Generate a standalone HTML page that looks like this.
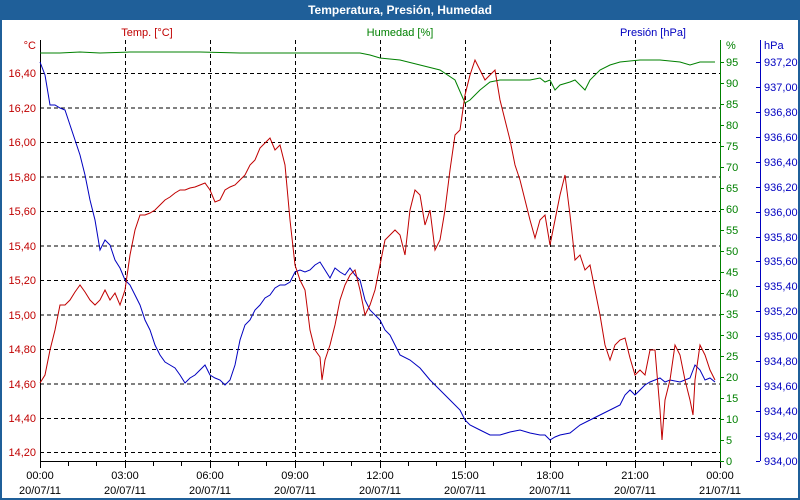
<!DOCTYPE html><html><head><meta charset="utf-8"><style>body{margin:0}svg{display:block}text{font-family:"Liberation Sans",sans-serif;font-size:11px}</style></head><body>
<svg width="800" height="500" xmlns="http://www.w3.org/2000/svg">
<rect width="800" height="500" fill="#1f5f99"/>
<rect x="2" y="20" width="796" height="478" fill="#fff"/>
<text x="400" y="14" fill="#fff" text-anchor="middle" font-weight="bold" style="font-size:12px">Temperatura, Presión, Humedad</text>
<text x="147" y="36" fill="#c00000" text-anchor="middle">Temp. [°C]</text>
<text x="400" y="36" fill="#008000" text-anchor="middle">Humedad [%]</text>
<text x="686" y="36" fill="#0000c0" text-anchor="end">Presión [hPa]</text>
<g stroke="#000" stroke-dasharray="4,3" stroke-width="1" fill="none">
<path d="M40 73.5H720M40 108H720M40 142.5H720M40 177H720M40 211.5H720M40 246H720M40 280.5H720M40 315H720M40 349.5H720M40 384H720M40 418.5H720M40 452.5H720"/>
<path d="M125.5 40V461M210.5 40V461M295.5 40V461M380.5 40V461M465.5 40V461M550.5 40V461M635.5 40V461"/>
</g>
<g stroke="#000" fill="none"><path d="M40.5 40V461.5H720"/>
<path d="M68.5 461V466M96.5 461V466M125.5 461V468M153.5 461V466M181.5 461V466M210.5 461V468M238.5 461V466M266.5 461V466M295.5 461V468M323.5 461V466M351.5 461V466M380.5 461V468M408.5 461V466M436.5 461V466M465.5 461V468M493.5 461V466M521.5 461V466M550.5 461V468M578.5 461V466M606.5 461V466M635.5 461V468M663.5 461V466M691.5 461V466M720.5 461V468M40.5 461V468"/></g>
<g stroke="#008000" fill="none"><path d="M720.5 40V461"/>
<path d="M720 62.5h4M720 83.5h4M720 104.5h4M720 125.5h4M720 146.5h4M720 167.5h4M720 188.5h4M720 209.5h4M720 230.5h4M720 251.5h4M720 272.5h4M720 293.5h4M720 314.5h4M720 335.5h4M720 356.5h4M720 377.5h4M720 398.5h4M720 419.5h4M720 440.5h4M720 461.5h4"/></g>
<g fill="#008000">
<text x="726" y="49">%</text>
<text x="726" y="66">95</text><text x="726" y="87">90</text><text x="726" y="108">85</text><text x="726" y="129">80</text><text x="726" y="150">75</text><text x="726" y="171">70</text><text x="726" y="192">65</text><text x="726" y="213">60</text><text x="726" y="234">55</text><text x="726" y="255">50</text><text x="726" y="276">45</text><text x="726" y="297">40</text><text x="726" y="318">35</text><text x="726" y="339">30</text><text x="726" y="360">25</text><text x="726" y="381">20</text><text x="726" y="402">15</text><text x="726" y="423">10</text><text x="726" y="444">5</text><text x="726" y="465">0</text></g>
<g stroke="#0000c0" fill="none"><path d="M760.5 40V461"/>
<path d="M756 62.5h4M756 87.5h4M756 112.5h4M756 137.5h4M756 162.5h4M756 187.5h4M756 212.5h4M756 237.5h4M756 261.5h4M756 286.5h4M756 311.5h4M756 336.5h4M756 361.5h4M756 386.5h4M756 411.5h4M756 436.5h4M756 461.5h4"/></g>
<g fill="#0000c0">
<text x="764" y="49">hPa</text>
<text x="764" y="66">937,20</text><text x="764" y="91">937,00</text><text x="764" y="116">936,80</text><text x="764" y="141">936,60</text><text x="764" y="166">936,40</text><text x="764" y="191">936,20</text><text x="764" y="216">936,00</text><text x="764" y="241">935,80</text><text x="764" y="265">935,60</text><text x="764" y="290">935,40</text><text x="764" y="315">935,20</text><text x="764" y="340">935,00</text><text x="764" y="365">934,80</text><text x="764" y="390">934,60</text><text x="764" y="415">934,40</text><text x="764" y="440">934,20</text><text x="764" y="465">934,00</text></g>
<g fill="#c00000" text-anchor="end">
<text x="36" y="49">°C</text>
<text x="36" y="77">16,40</text><text x="36" y="112">16,20</text><text x="36" y="146">16,00</text><text x="36" y="181">15,80</text><text x="36" y="215">15,60</text><text x="36" y="250">15,40</text><text x="36" y="284">15,20</text><text x="36" y="319">15,00</text><text x="36" y="353">14,80</text><text x="36" y="388">14,60</text><text x="36" y="422">14,40</text><text x="36" y="456">14,20</text></g>
<g text-anchor="middle" fill="#000">
<text x="40" y="479">00:00</text><text x="40" y="494">20/07/11</text>
<text x="125" y="479">03:00</text><text x="125" y="494">20/07/11</text>
<text x="210" y="479">06:00</text><text x="210" y="494">20/07/11</text>
<text x="295" y="479">09:00</text><text x="295" y="494">20/07/11</text>
<text x="380" y="479">12:00</text><text x="380" y="494">20/07/11</text>
<text x="465" y="479">15:00</text><text x="465" y="494">20/07/11</text>
<text x="550" y="479">18:00</text><text x="550" y="494">20/07/11</text>
<text x="635" y="479">21:00</text><text x="635" y="494">20/07/11</text>
<text x="720" y="479">00:00</text><text x="720" y="494">21/07/11</text></g>
<g fill="none" stroke-width="1">
<polyline stroke="#008000" points="40,53 60,53 80,52 100,53 130,52 160,52 200,52 240,53 270,53 300,53 330,53 360,53 370,55 380,58 400,60 420,65 440,70 455,80 465,103 470,100 480,90 490,82 500,80 520,80 530,80 540,78 545,82 550,80 555,90 560,85 570,82 575,80 580,85 585,90 590,80 600,70 610,65 620,62 640,60 660,60 680,62 690,65 700,62 715,62"/>
<polyline stroke="#0000c0" points="40,62 45,75 50,105 55,105 60,108 65,110 70,125 75,140 80,155 85,175 90,200 95,220 100,250 105,240 110,245 115,260 120,268 125,280 130,285 135,295 140,305 145,320 150,330 155,345 160,355 165,362 170,365 175,368 180,375 185,383 190,378 195,375 200,370 205,365 210,375 215,378 220,380 225,385 230,380 235,365 240,340 245,325 250,320 255,310 260,305 265,298 270,295 275,288 280,285 285,285 290,282 295,272 300,270 305,272 310,270 315,265 320,262 325,270 330,278 335,268 340,272 345,275 350,268 355,275 360,280 365,300 370,310 375,315 380,320 385,330 390,335 395,345 400,355 410,360 420,368 430,380 440,390 450,400 460,410 465,420 470,425 480,430 490,435 500,435 510,432 520,430 530,433 540,435 545,435 550,440 555,437 560,435 570,433 580,425 590,420 600,415 610,410 620,405 625,395 630,390 635,395 640,390 645,385 650,382 655,380 660,378 665,382 670,380 680,382 690,378 695,365 700,370 705,380 710,378 715,382"/>
<polyline stroke="#c00000" points="40,383 45,375 50,350 55,330 60,305 65,305 70,300 75,292 80,285 85,292 90,300 95,305 100,300 105,290 110,300 115,293 120,305 125,290 130,255 135,230 140,215 145,215 150,213 155,210 160,205 165,200 170,197 175,193 180,190 185,190 190,188 195,187 200,185 205,183 210,190 215,202 220,200 225,190 230,187 235,185 240,180 245,175 250,165 255,160 260,148 265,143 270,138 275,150 280,145 285,165 290,220 295,265 300,280 305,290 310,330 315,350 320,357 322,380 325,360 330,345 335,325 340,300 345,285 350,275 355,270 360,290 365,315 370,305 375,290 380,265 385,240 390,235 395,230 400,235 405,255 410,210 415,190 420,195 425,225 430,210 435,250 440,240 445,210 450,170 455,135 460,130 465,95 470,75 475,60 480,70 485,80 490,75 495,70 500,100 505,120 510,140 515,165 520,180 525,200 530,220 535,238 540,220 545,215 550,245 555,220 560,195 565,175 570,215 575,260 580,255 585,270 590,265 595,290 600,315 605,345 610,360 615,345 620,340 625,338 630,358 635,375 640,370 645,375 650,350 655,350 660,410 662,440 665,400 670,380 675,345 680,355 685,380 690,400 693,415 695,380 700,345 705,355 710,370 715,380"/>
</g>
</svg></body></html>
